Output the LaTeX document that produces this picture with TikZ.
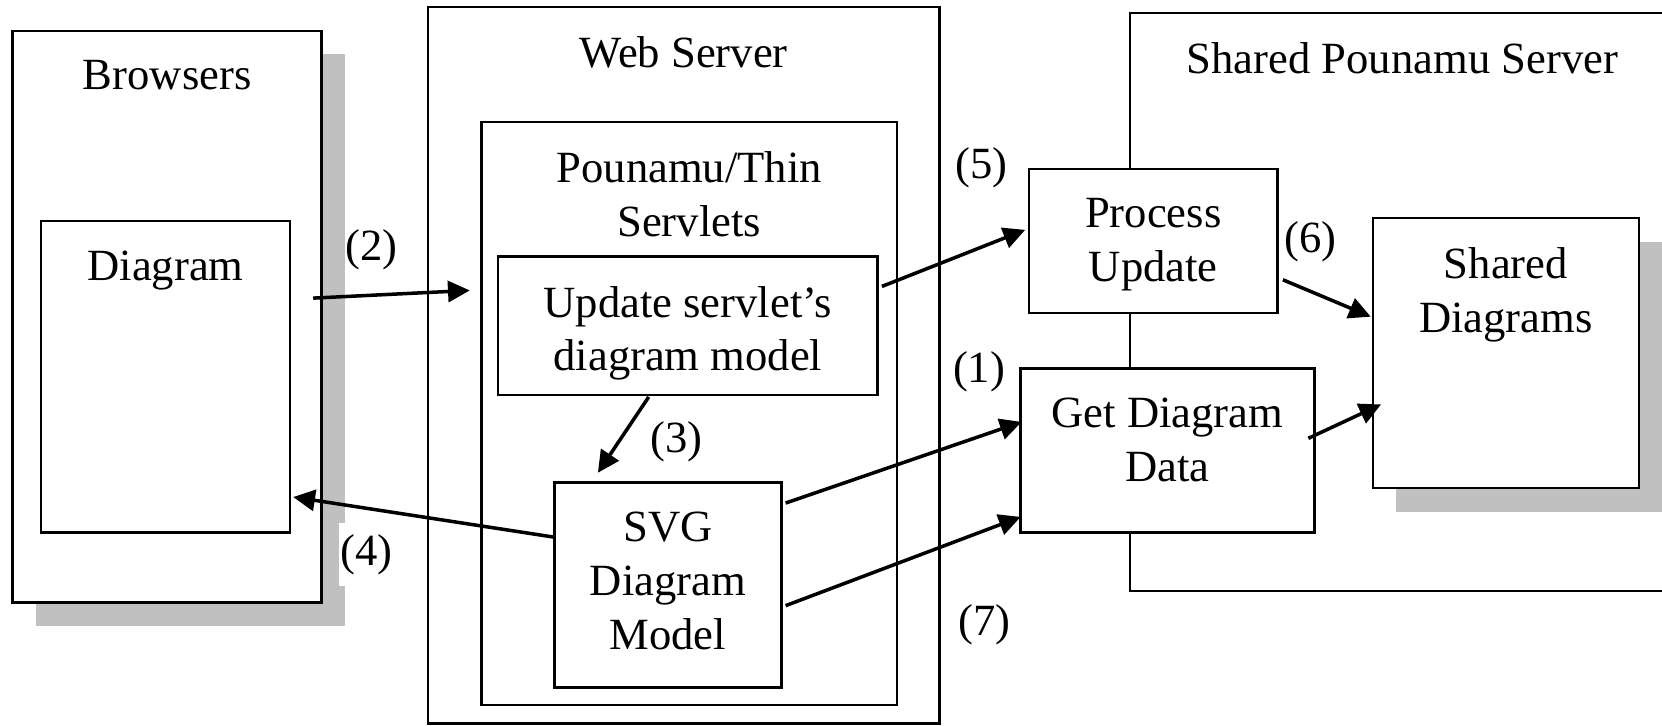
\documentclass[tikz,border=0pt]{standalone}
\usepackage{fontspec}
\setmainfont{Liberation Serif}
\usetikzlibrary{positioning, fit, shadows, arrows.meta}
\definecolor{shadowgray}{RGB}{192,192,192}

\begin{document}
\begin{tikzpicture}[x = 0.0106cm, y = -0.0106cm,
	every node/.style = {font = \fontsize{12.7}{15.3}\selectfont},
	box/.style = {draw, fill = white, line width = 0.7pt, inner sep = 0pt, outer sep = 0pt},
	shaded/.style = {drop shadow = {shadow xshift = 0.233cm, shadow yshift = -0.233cm, fill = shadowgray, opacity = 1}},
	caption/.style = {inner sep = 0pt, align = center},
	flow/.style = {line width = 1pt, -{Triangle[length = 6.2pt, width = 6pt]}},
	tag/.style = {inner sep = 0pt}]
	\def\pad{0.29cm}
	\useasboundingbox (0, 0) rectangle (1568, 684);

	\node[box, fit = {(403.7, 6.5) (886.2, 682.5)}] (webserver) {};
	\node[box, fit = {(454.2, 115) (846.3, 665)}] (servlets) {};
	\node[box, fit = {(470, 242) (828, 372.5)}] (update) {};
	\node[box, fit = {(523, 455) (737.2, 648.6)}] (svgmodel) {};
	\node[box, shaded, fit = {(12, 29.2) (303.5, 568.3)}] (browsers) {};
	\node[box, fit = {(38.7, 208.5) (273.6, 502.5)}] (diagram) {};
	\node[box, fit = {(1066.2, 12.2) (1700, 557.4)}] (pounamu) {};
	\node[box, fit = {(970.7, 159.2) (1205.3, 295.3)}] (process) {};
	\node[box, fit = {(962.9, 347.6) (1240, 502.5)}] (getdata) {};
	\node[box, shaded, fit = {(1295.2, 205.9) (1546.3, 460.6)}] (shared) {};

	\node[caption, below = \pad of browsers.north] (browserslabel) {Browsers};
	\node[caption, below = \pad of diagram.north] (diagramlabel) {Diagram};
	\node[caption, below = \pad of webserver.north] (webserverlabel) {Web Server};
	\node[caption, below = \pad of servlets.north] (servletslabel) {Pounamu/Thin\\Servlets};
	\node[caption, below = \pad of update.north] (updatelabel) {Update servlet’s\\diagram model};
	\node[caption, below = \pad of svgmodel.north] (svglabel) {SVG\\Diagram\\Model};
	\node[caption, below right = \pad and 0.56cm of pounamu.north west] (pounamulabel) {Shared Pounamu Server};
	\node[caption, below = \pad of process.north] (processlabel) {Process\\Update};
	\node[caption, below = \pad of getdata.north] (getdatalabel) {Get Diagram\\Data};
	\node[caption, below = \pad of shared.north] (sharedlabel) {Shared\\Diagrams};

	\draw[flow] ([shift = {(-8, -17.5)}]browsers.east) -- ([shift = {(-11, -116)}]servlets.west);
	\draw[flow] ([shift = {(-37, 2)}]update.south) -- ([shift = {(-66, -9)}]svgmodel.north);
	\draw[flow] ([shift = {(0, -45)}]svgmodel.west) -- ([shift = {(3, 113.4)}]diagram.east);
	\draw[flow] ([shift = {(4, -37)}]update.east) -- ([shift = {(-3.5, -10.4)}]process.west);
	\draw[flow] ([shift = {(5, 36.7)}]process.east) -- ([shift = {(-2, -34.5)}]shared.west);
	\draw[flow] ([shift = {(4, -77.2)}]svgmodel.east) -- ([shift = {(1, -27)}]getdata.west);
	\draw[flow] ([shift = {(4, 19.6)}]svgmodel.east) -- ([shift = {(0, 62.6)}]getdata.west);
	\draw[flow] ([shift = {(-5.7, -11.5)}]getdata.east) -- ([shift = {(7.7, 48.3)}]shared.west);

	\node[tag] (num1) at (923.7, 351.1) {(1)};
	\node[tag] (num2) at (350.7, 235.5) {(2)};
	\node[tag] (num3) at (638.5, 416.5) {(3)};
	\node[tag, fill = white, inner xsep = 0.5pt, inner ysep = 3.2pt] (num4) at (346, 523.4) {(4)};
	\node[tag] (num5) at (925.9, 157.9) {(5)};
	\node[tag] (num6) at (1236.5, 227.7) {(6)};
	\node[tag] (num7) at (929, 589.7) {(7)};
\end{tikzpicture}
\end{document}
